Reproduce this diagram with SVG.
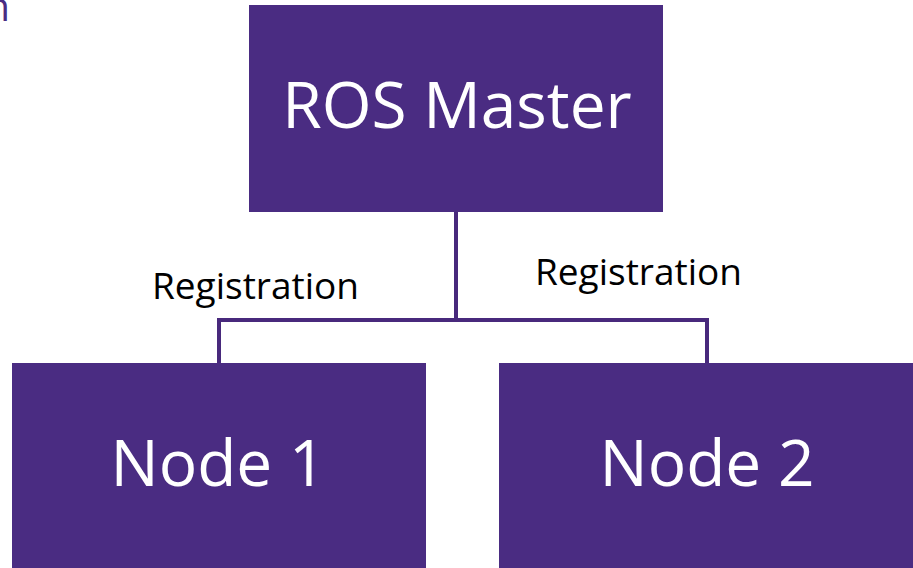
<svg xmlns="http://www.w3.org/2000/svg" width="913" height="568" viewBox="0 0 913 568">
  <style>
    .box { fill: #4a2c82; }
    .big { font-family: "Open Sans", "Noto Sans", sans-serif; font-size: 64px; fill: #ffffff; text-anchor: middle; }
    .lbl { font-family: "Open Sans", "Noto Sans", sans-serif; font-size: 37px; fill: #000000; }
    .wire { fill: none; stroke: #48297c; stroke-width: 4; stroke-linejoin: miter; }
  </style>
  <rect width="913" height="568" fill="#ffffff"/>
  <!-- clipped title fragment at the top-left edge -->
  <text x="10" y="21" font-family="'Open Sans', sans-serif" font-size="40" fill="#4a2c82" text-anchor="end">n</text>

  <g id="connectors">
    <path class="wire" d="M456 212 V320"/>
    <path class="wire" d="M219 363 V320 H707 V363"/>
  </g>

  <g id="master">
    <rect class="box" x="249" y="5" width="414" height="207"/>
    <text class="big" x="457" y="128">ROS Master</text>
  </g>
  <g id="node1">
    <rect class="box" x="12" y="363" width="414" height="205"/>
    <text class="big" x="218" y="486">Node 1</text>
  </g>
  <g id="node2">
    <rect class="box" x="499" y="363" width="414" height="205"/>
    <text class="big" x="707" y="486">Node 2</text>
  </g>
  <g id="labels">
    <text class="lbl" x="152" y="299">Registration</text>
    <text class="lbl" x="535" y="285">Registration</text>
  </g>
</svg>
